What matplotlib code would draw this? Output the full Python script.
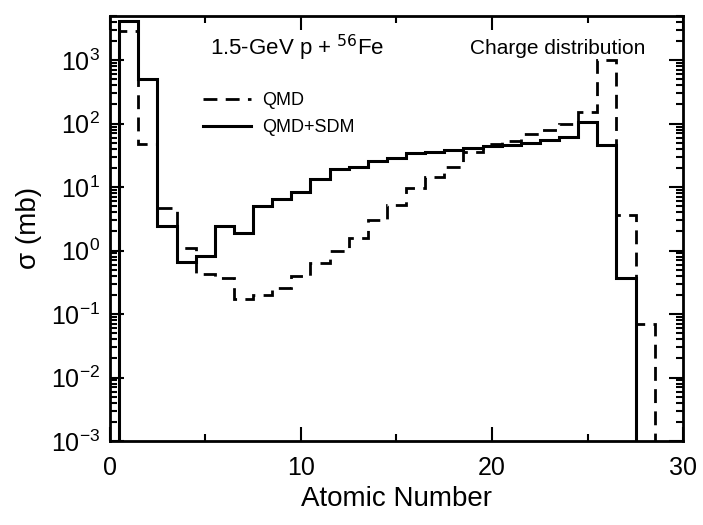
import numpy as np
import matplotlib
matplotlib.use("Agg")
import matplotlib.pyplot as plt
from matplotlib.ticker import LogLocator, NullFormatter, MultipleLocator

plt.rcParams['font.family'] = ['Liberation Sans', 'DejaVu Sans']

# atomic number Z = 0..29 (bins centred on integers)
Z = np.arange(0, 30)
# QMD (dashed), mb ; 0 -> below the axis
qmd = [0, 2900, 47, 4.7, 1.1, 0.43, 0.37, 0.17, 0.20, 0.26,
       0.40, 0.64, 1.0, 1.6, 3.0, 5.2, 9.7, 14.6, 21, 36,
       47, 53, 68, 80, 98, 152, 1000, 3.6, 0.07, 0]
# QMD+SDM (solid), mb
qmd_sdm = [0, 4200, 500, 2.4, 0.66, 0.83, 2.4, 1.9, 5.0, 6.5,
           8.4, 13.5, 19, 21, 26, 29, 35, 36, 38, 41,
           44, 46, 49, 55, 61, 107, 46, 0.37, 0, 0]

edges = np.concatenate([[0.0], Z[1:] - 0.5, [Z[-1] + 0.5]])
floor = 1e-6

fig = plt.figure(figsize=(7.03, 5.25), dpi=100)
ax = fig.add_axes([0.156, 0.16, 0.816, 0.81])

ax.stairs(np.maximum(qmd, floor), edges, baseline=None, color="black",
          lw=2.0, ls=(0, (5, 3)), label="QMD")
ax.stairs(np.maximum(qmd_sdm, floor), edges, baseline=None, color="black",
          lw=2.2, label="QMD+SDM")

ax.set_yscale("log")
ax.set_xlim(0, 30)
ax.set_ylim(1e-3, 5e3)
ax.xaxis.set_major_locator(MultipleLocator(10))
ax.xaxis.set_minor_locator(MultipleLocator(5))
ax.yaxis.set_major_locator(LogLocator(base=10, numticks=20))
ax.yaxis.set_minor_locator(LogLocator(base=10, subs=np.arange(2, 10), numticks=20))
ax.yaxis.set_minor_formatter(NullFormatter())

ax.tick_params(which="both", direction="in", top=True, right=True,
               labelsize=18, width=1.5)
ax.tick_params(which="major", length=10)
ax.tick_params(which="minor", length=5)
ax.tick_params(axis="x", which="major", pad=11)
ax.tick_params(axis="y", which="major", pad=7)
for s in ax.spines.values():
    s.set_linewidth(2)

ax.set_xlabel("Atomic Number", fontsize=20, labelpad=4)
ax.set_ylabel("σ (mb)", fontsize=20, labelpad=6)

ax.text(0.175, 0.925, "1.5-GeV p + $^{56}$Fe", transform=ax.transAxes,
        fontsize=16, ha="left", va="center")
ax.text(0.628, 0.922, "Charge distribution", transform=ax.transAxes,
        fontsize=15, ha="left", va="center")

ax.legend(loc="upper left", bbox_to_anchor=(0.162, 0.82), frameon=False,
          fontsize=13, handlelength=2.7, handletextpad=0.6,
          labelspacing=0.55, borderpad=0, borderaxespad=0)

fig.savefig("out.png", dpi=100)
